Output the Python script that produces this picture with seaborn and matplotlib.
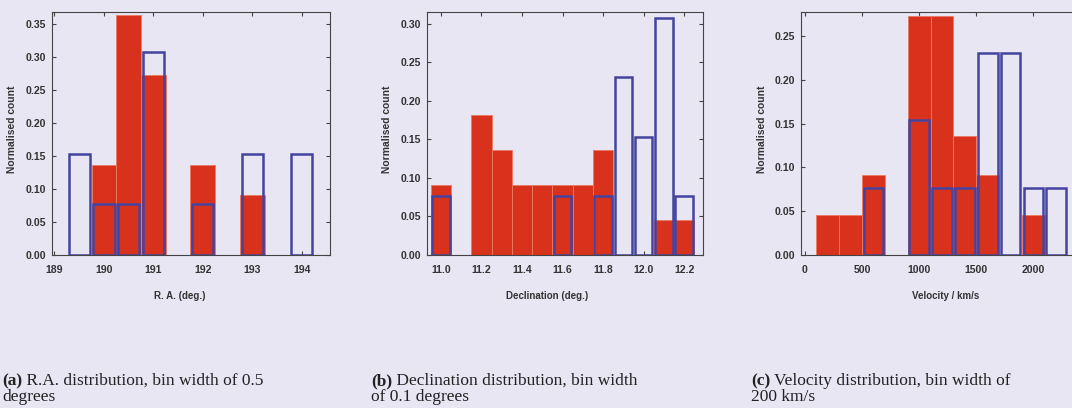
import numpy as np
import pandas as pd
import matplotlib
matplotlib.use('Agg')
import matplotlib.pyplot as plt
import seaborn as sns

# bin centres and counts (red = filled sample of 22, blue = outline sample of 13)
ra_red_x = [190.0, 190.5, 191.0, 192.0, 193.0]
ra_red_n = [3, 8, 6, 3, 2]
ra_blue_x = [189.5, 190.0, 190.5, 191.0, 192.0, 193.0, 194.0]
ra_blue_n = [2, 1, 1, 4, 1, 2, 2]

dec_red_x = [11.0, 11.2, 11.3, 11.4, 11.5, 11.6, 11.7, 11.8, 12.1, 12.2]
dec_red_n = [2, 4, 3, 2, 2, 2, 2, 3, 1, 1]
dec_blue_x = [11.0, 11.6, 11.8, 11.9, 12.0, 12.1, 12.2]
dec_blue_n = [1, 1, 1, 3, 2, 4, 1]

vel_red_x = [200, 400, 600, 1000, 1200, 1400, 1600, 2000]
vel_red_n = [1, 1, 2, 6, 6, 3, 2, 1]
vel_blue_x = [600, 1000, 1200, 1400, 1600, 1800, 2000, 2200]
vel_blue_n = [1, 2, 1, 1, 3, 3, 1, 1]

ra_ticks = [189, 190, 191, 192, 193, 194]
dec_ticks = [11.0, 11.2, 11.4, 11.6, 11.8, 12.0, 12.2]
vel_ticks = [0, 500, 1000, 1500, 2000]

captions = [('(a)', ' R.A. distribution, bin width of 0.5', 'degrees'),
            ('(b)', ' Declination distribution, bin width', 'of 0.1 degrees'),
            ('(c)', ' Velocity distribution, bin width of', '200 km/s')]

BG = '#e8e6f2'
RED = '#d8321c'
BLUE = '#4444a0'

sns.set_theme(style='ticks')
plt.rcParams['font.family'] = ['Liberation Sans', 'DejaVu Sans']

fig = plt.figure(figsize=(10.72, 4.08), dpi=100, facecolor=BG)

panels = [
    dict(pos=[0.0485, 0.375, 0.2593, 0.5964], red=(ra_red_x, ra_red_n), blue=(ra_blue_x, ra_blue_n),
         bw=0.5, br=(189.25, 194.25), xlim=(188.95, 194.57), ylim=(0, 0.369),
         xt=ra_ticks, xfmt='{:.0f}', yt=np.arange(0, 0.36, 0.05), xl='R. A. (deg.)',
         xlx=0.458, ylx=-0.125),
    dict(pos=[0.398, 0.375, 0.258, 0.5964], red=(dec_red_x, dec_red_n), blue=(dec_blue_x, dec_blue_n),
         bw=0.1, br=(10.95, 12.25), xlim=(10.93, 12.294), ylim=(0, 0.316),
         xt=dec_ticks, xfmt='{:.1f}', yt=np.arange(0, 0.31, 0.05), xl='Declination (deg.)',
         xlx=0.437, ylx=-0.125),
    dict(pos=[0.7472, 0.375, 0.2647, 0.5964], red=(vel_red_x, vel_red_n), blue=(vel_blue_x, vel_blue_n),
         bw=200, br=(100, 2300), xlim=(-35, 2450), ylim=(0, 0.2777),
         xt=vel_ticks, xfmt='{:.0f}', yt=np.arange(0, 0.26, 0.05), xl='Velocity / km/s',
         xlx=0.51, ylx=-0.12),
]

for p in panels:
    ax = fig.add_axes(p['pos'])
    ax.set_facecolor(BG)
    sns.histplot(x=p['red'][0], weights=p['red'][1], stat='probability', binwidth=p['bw'],
                 binrange=p['br'], color=RED, alpha=1, edgecolor='#ec7a62', linewidth=0.6, ax=ax)
    sns.histplot(x=p['blue'][0], weights=p['blue'][1], stat='probability', binwidth=p['bw'],
                 binrange=p['br'], fill=False, color=BLUE, shrink=0.86, linewidth=1.8, ax=ax)
    # empty bins should not leave a line on the baseline
    for patch in list(ax.patches):
        if patch.get_height() == 0:
            patch.remove()
    ax.set_xlim(*p['xlim'])
    ax.set_ylim(*p['ylim'])
    ax.set_xticks(p['xt'])
    ax.set_xticklabels([p['xfmt'].format(t) for t in p['xt']])
    ax.set_yticks(p['yt'])
    ax.set_yticklabels(['{:.2f}'.format(t) for t in p['yt']])
    ax.tick_params(direction='in', top=True, right=True, length=3, width=0.8, colors='#444444',
                   labelsize=7.6, labelcolor='#333333')
    ax.tick_params(axis='x', pad=7)
    ax.tick_params(axis='y', pad=4)
    for lab in ax.get_xticklabels() + ax.get_yticklabels():
        lab.set_fontweight('bold')
    for s in ax.spines.values():
        s.set_visible(True)
        s.set_color('#444444')
        s.set_linewidth(0.8)
    ax.set_xlabel(p['xl'], fontsize=7, fontweight='bold', color='#333333')
    ax.set_ylabel('Normalised count', fontsize=7.4, fontweight='bold', color='#333333')
    ax.xaxis.set_label_coords(p['xlx'], -0.148)
    ax.yaxis.set_label_coords(p['ylx'], 0.518)

# captions under each panel
fig.canvas.draw()
r = fig.canvas.get_renderer()
for (tag, line1, line2), x0 in zip(captions, [2, 371, 751]):
    xf = x0 / 1072
    t = fig.text(xf, 1 - 385 / 408, tag, fontsize=12.5, fontweight='bold',
                 family=['Liberation Serif'], color='#222222', va='baseline')
    w = t.get_window_extent(renderer=r).width / 1072
    fig.text(xf + w, 1 - 385 / 408, line1, fontsize=12.5, family=['Liberation Serif'],
             color='#222222', va='baseline')
    fig.text(xf, 1 - 401 / 408, line2, fontsize=12.5, family=['Liberation Serif'],
             color='#222222', va='baseline')

fig.savefig('out.png', dpi=100, facecolor=BG)
